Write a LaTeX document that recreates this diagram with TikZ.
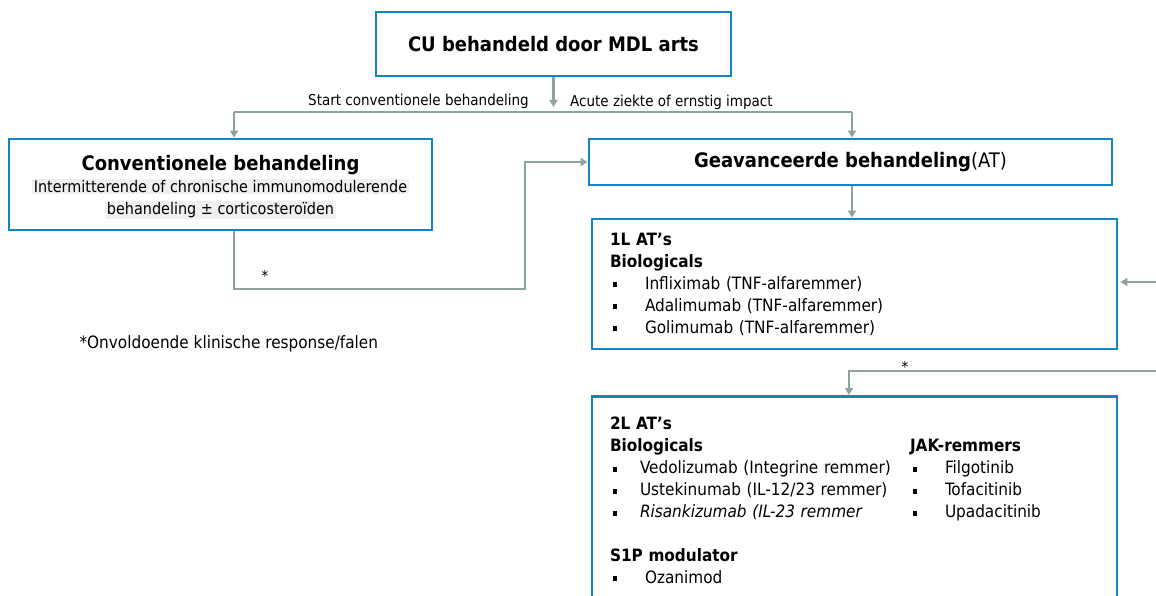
\documentclass[tikz,border=0pt]{standalone}
\usepackage{fontspec}
\setmainfont{DejaVu Sans Condensed}
\usepackage{xcolor}
\usetikzlibrary{arrows.meta,positioning,calc}
\definecolor{frameblue}{HTML}{1384C4}
\definecolor{linkgrey}{HTML}{8FA29C}
\definecolor{hlgrey}{HTML}{F0F0F0}
\newcommand{\bul}[1][35pt]{\makebox[#1][l]{\hspace{3pt}\rule[2pt]{4pt}{5pt}}}
\newcommand{\hl}[1]{{\setlength{\fboxsep}{1.5pt}\colorbox{hlgrey}{#1}}}

\begin{document}
\begin{tikzpicture}[x=1pt,y=-1pt,
  box/.style={draw=frameblue,line width=2.9pt,fill=white,inner sep=0pt},
  conn/.style={draw=linkgrey,line width=2.7pt},
  hd/.style={font=\fontsize{20}{24}\selectfont\bfseries},
  body/.style={font=\fontsize{17}{22}\selectfont},
  lab/.style={font=\fontsize{15}{18}\selectfont,inner sep=1pt},
  >={Triangle[length=7pt,width=8pt]}]
  \useasboundingbox (0,0) rectangle (1156,596);
  \clip (0,0) rectangle (1156,596);
  \node[box,hd,minimum width=355pt,minimum height=64pt] (top) at (553.5,44) {CU behandeld door MDL arts};
  \node[box,minimum width=423pt,minimum height=91pt,align=center,font=\fontsize{16}{22}\selectfont] (conv) at (220.5,184.5)
    {\rule{0pt}{21pt}{\fontsize{20}{24}\selectfont\bfseries Conventionele behandeling}\\[0pt]
     \hl{Intermitterende of chronische immunomodulerende}\\
     \hl{behandeling ± corticostero\"{\i}den}};
  \node[box,minimum width=523pt,minimum height=46pt,font=\fontsize{20}{24}\selectfont] (adv) at (850.5,162)
    {\textbf{Geavanceerde behandeling}(AT)};
  \node[box,body,minimum width=525pt,minimum height=130pt,text width=489pt,align=left,inner xsep=18pt] (first) at (854.5,284)
    {\textbf{1L AT’s}\\ \textbf{Biologicals}\\
     \bul Infliximab (TNF-alfaremmer)\\ \bul Adalimumab (TNF-alfaremmer)\\ \bul Golimumab (TNF-alfaremmer)};
  \node[box,body,anchor=north,minimum width=525pt,text width=489pt,align=left,inner xsep=18pt,inner ysep=18pt] (second) at (854.5,395)
    {\begin{tabular}{@{}p{300pt}@{}l@{}}
       \textbf{2L AT’s} & \\
       \textbf{Biologicals} & \textbf{JAK-remmers}\\
       \bul[30pt]Vedolizumab (Integrine remmer) & \bul Filgotinib\\
       \bul[30pt]Ustekinumab (IL-12/23 remmer) & \bul Tofacitinib\\
       \bul[30pt]\textit{Risankizumab (IL-23 remmer} & \bul Upadacitinib
     \end{tabular}\\[23pt]
     \textbf{S1P modulator}\\ \bul Ozanimod\\[40pt]};
  \coordinate (split) at (553.5,107);
  \coordinate (busL) at (234,112);
  \coordinate (busR) at (852,112);
  \coordinate (loop) at (525,289);
  \coordinate (inR) at (1156,282);
  \coordinate (inR2) at (1156,371);
  \draw[conn,->] (top) -- (split);
  \draw[conn] (busL) -- (busR);
  \draw[conn,->] (busL) -- (busL |- conv.north);
  \draw[conn,->] (busR) -- (busR |- adv.north);
  \node[lab,anchor=south east] (lstart) at (530,110) {Start conventionele behandeling};
  \node[lab,anchor=south west] (lacute) at (569,111) {Acute ziekte of ernstig impact};
  \draw[conn,->] (busL |- conv.south) |- (loop) |- (adv.west);
  \node[lab] (star1) at (265,276) {*};
  \draw[conn,->] (busR |- adv.south) -- (busR |- first.north);
  \draw[conn,->,shorten >=2pt] (inR) -- (first.east |- inR);
  \draw[conn,->] (inR2) -| ([xshift=-5.5pt]second.north);
  \node[lab] (star2) at (905,367) {*};
  \node[anchor=west,font=\fontsize{17}{20}\selectfont] (note) at (76,344) {*Onvoldoende klinische response/falen};
\end{tikzpicture}
\end{document}
